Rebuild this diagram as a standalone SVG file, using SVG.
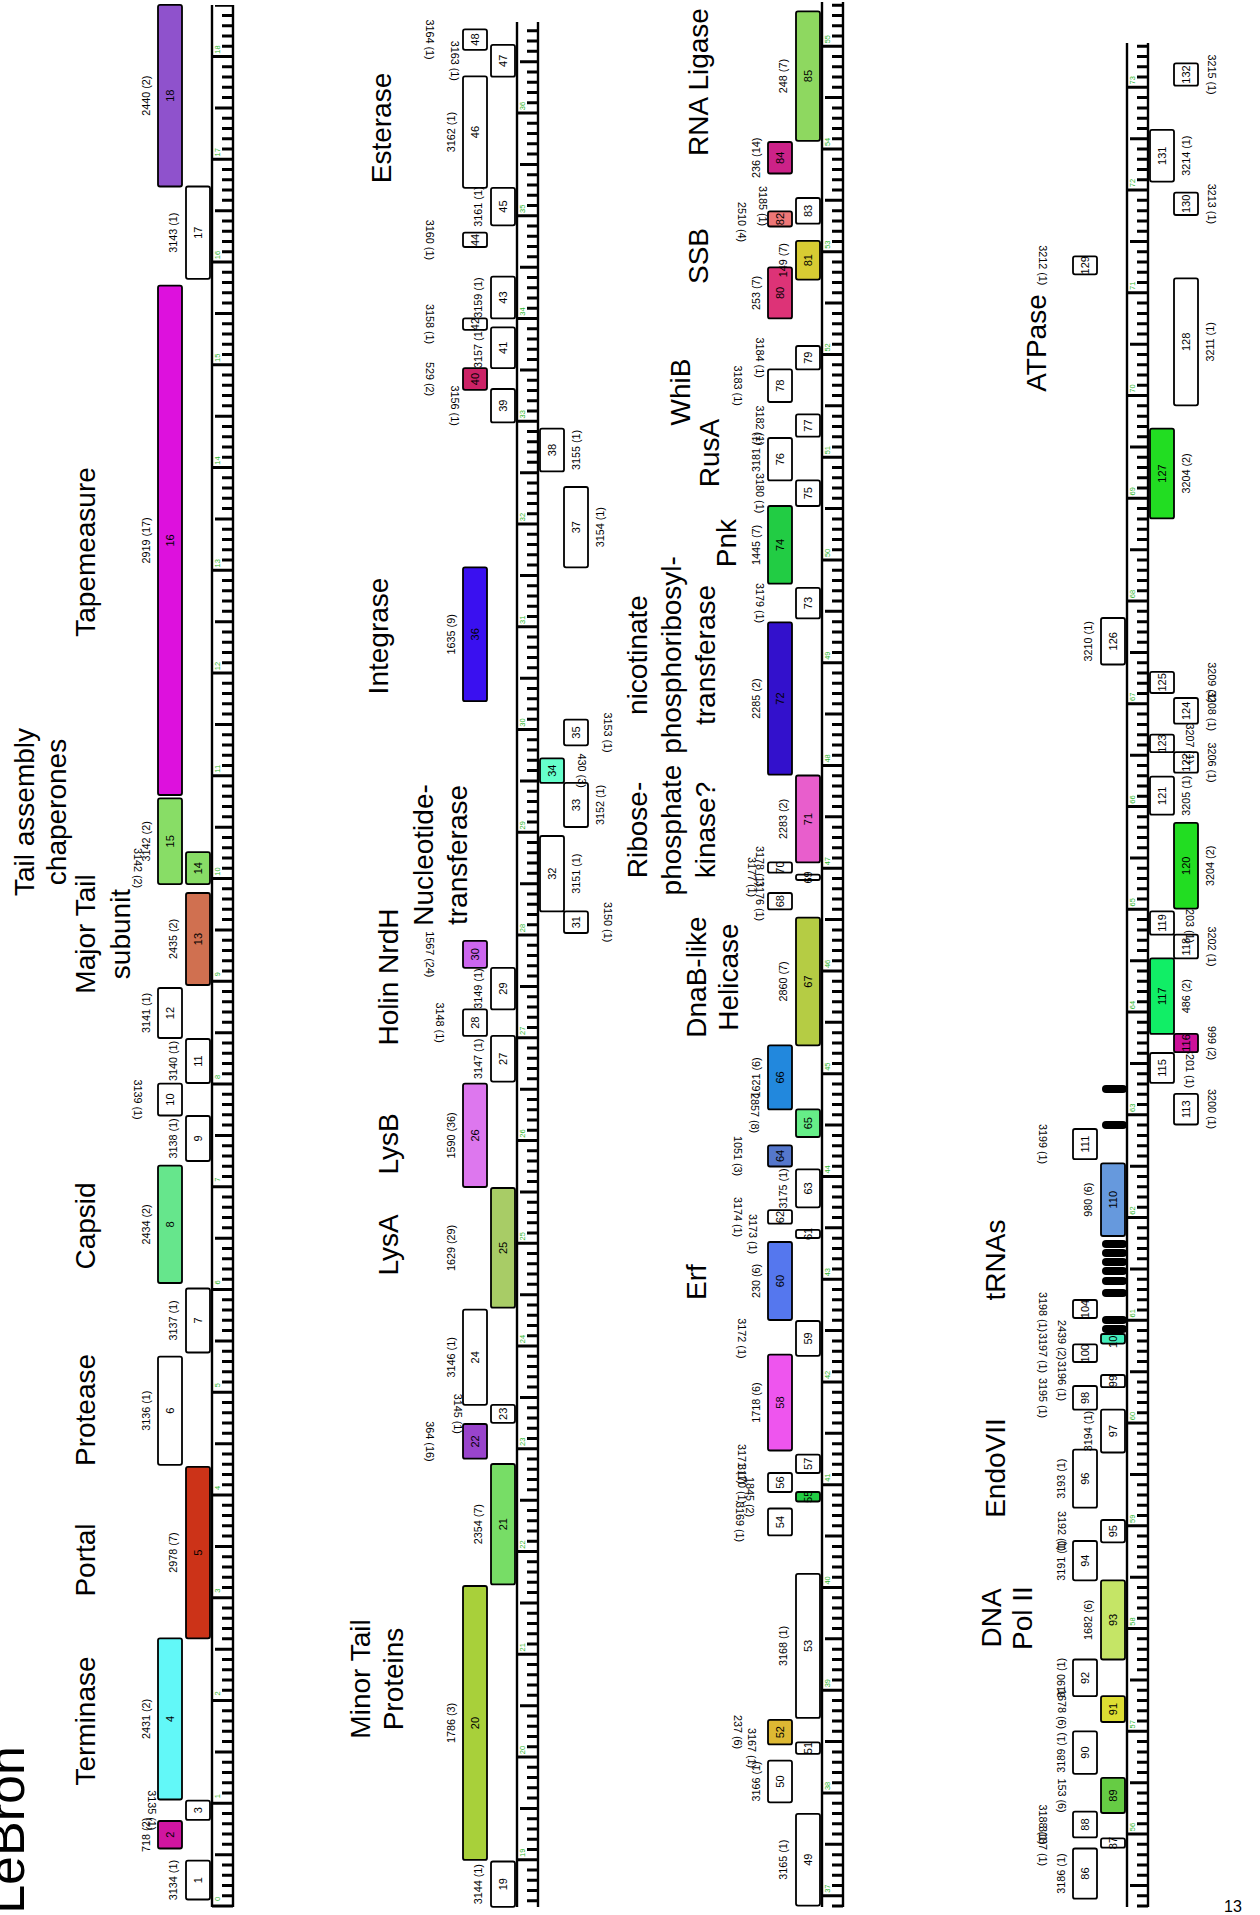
<svg xmlns="http://www.w3.org/2000/svg" width="1260" height="1915" viewBox="0 0 1260 1915">
<style>
text{font-family:"Liberation Sans",Arial,sans-serif;fill:#000}
.bx{stroke:#000;stroke-width:1.8}
.n{font-size:11px;text-anchor:middle;dominant-baseline:central}
.l{font-size:10.8px;text-anchor:middle;dominant-baseline:central}
.big{font-size:28px;text-anchor:middle;dominant-baseline:central}
.rl text{font-size:7.5px;fill:#2DB52D;text-anchor:middle;dominant-baseline:central}
.ax{stroke:#000;stroke-width:2.4}
.mi{stroke:#000;stroke-width:11;stroke-dasharray:3 7.275;fill:none}
.hf{stroke:#000;stroke-width:7;stroke-dasharray:3 48.375;fill:none}
.kb{stroke:#000;stroke-width:3;stroke-dasharray:3 99.75;fill:none}
.tr{fill:#000}
</style>
<rect width="1260" height="1915" fill="#fff"/>

<g id="title">
<text x="24" y="1830" font-size="52" text-anchor="middle" transform="rotate(-90 24 1830)">LeBron</text>
<text x="1233" y="1912" font-size="16" text-anchor="middle">13</text>
</g>

<g id="rulers">
<path class="mi" d="M227.5 1907.5V5"/><path class="hf" d="M218.5 1907.5V5"/><path class="kb" d="M213.5 1907.5V5"/>
<line class="ax" x1="212" y1="5" x2="212" y2="1907"/><line class="ax" x1="233" y1="5" x2="233" y2="1907"/>
<path class="mi" d="M532.5 1902.36V22"/><path class="hf" d="M523.5 1861.26V22"/><path class="kb" d="M518.5 1861.26V22"/>
<line class="ax" x1="517" y1="22" x2="517" y2="1907"/><line class="ax" x1="538" y1="22" x2="538" y2="1907"/>
<path class="mi" d="M837.5 1907.5V2"/><path class="hf" d="M828.5 1897.225V2"/><path class="kb" d="M823.5 1897.225V2"/>
<line class="ax" x1="822" y1="2" x2="822" y2="1907"/><line class="ax" x1="843" y1="2" x2="843" y2="1907"/>
<path class="mi" d="M1142.5 1907.5V43"/><path class="hf" d="M1133.5 1886.95V43"/><path class="kb" d="M1128.5 1835.575V43"/>
<line class="ax" x1="1127" y1="43" x2="1127" y2="1907"/><line class="ax" x1="1148" y1="43" x2="1148" y2="1907"/>
</g>

<g id="rulerlabels">
<g class="rl" transform="translate(217 0) rotate(-90)">
<text x="-1899">0</text><text x="-1796.25">1</text><text x="-1693.5">2</text><text x="-1590.75">3</text><text x="-1488">4</text><text x="-1385.25">5</text><text x="-1282.5">6</text><text x="-1179.75">7</text><text x="-1077">8</text><text x="-974.25">9</text><text x="-871.5">10</text><text x="-768.75">11</text><text x="-666">12</text><text x="-563.25">13</text><text x="-460.5">14</text><text x="-357.75">15</text><text x="-255">16</text><text x="-152.25">17</text><text x="-49.5">18</text>
</g>
<g class="rl" transform="translate(522 0) rotate(-90)">
<text x="-1852.76">19</text><text x="-1750.01">20</text><text x="-1647.26">21</text><text x="-1544.51">22</text><text x="-1441.76">23</text><text x="-1339.01">24</text><text x="-1236.26">25</text><text x="-1133.51">26</text><text x="-1030.76">27</text><text x="-928.01">28</text><text x="-825.26">29</text><text x="-722.51">30</text><text x="-619.76">31</text><text x="-517.01">32</text><text x="-414.26">33</text><text x="-311.51">34</text><text x="-208.76">35</text><text x="-106.01">36</text>
</g>
<g class="rl" transform="translate(827 0) rotate(-90)">
<text x="-1888.7">37</text><text x="-1785.95">38</text><text x="-1683.2">39</text><text x="-1580.45">40</text><text x="-1477.7">41</text><text x="-1374.95">42</text><text x="-1272.2">43</text><text x="-1169.45">44</text><text x="-1066.7">45</text><text x="-963.95">46</text><text x="-861.2">47</text><text x="-758.45">48</text><text x="-655.7">49</text><text x="-552.95">50</text><text x="-450.2">51</text><text x="-347.45">52</text><text x="-244.7">53</text><text x="-141.95">54</text><text x="-39.2">55</text>
</g>
<g class="rl" transform="translate(1132 0) rotate(-90)">
<text x="-1827.1">56</text><text x="-1724.35">57</text><text x="-1621.6">58</text><text x="-1518.85">59</text><text x="-1416.1">60</text><text x="-1313.35">61</text><text x="-1210.6">62</text><text x="-1107.85">63</text><text x="-1005.1">64</text><text x="-902.35">65</text><text x="-799.6">66</text><text x="-696.85">67</text><text x="-594.1">68</text><text x="-491.35">69</text><text x="-388.6">70</text><text x="-285.85">71</text><text x="-183.1">72</text><text x="-80.35">73</text>
</g>
</g>

<g id="labels">
<text class="big" x="85.5" y="1721" transform="rotate(-90 85.5 1721)">Terminase</text>
<text class="big" x="85.5" y="1560" transform="rotate(-90 85.5 1560)">Portal</text>
<text class="big" x="85.5" y="1410" transform="rotate(-90 85.5 1410)">Protease</text>
<text class="big" x="85.5" y="1226" transform="rotate(-90 85.5 1226)">Capsid</text>
<text class="big" x="85.5" y="934" transform="rotate(-90 85.5 934)">Major Tail</text>
<text class="big" x="120" y="934" transform="rotate(-90 120 934)">subunit</text>
<text class="big" x="24" y="812" transform="rotate(-90 24 812)">Tail assembly</text>
<text class="big" x="56" y="812" transform="rotate(-90 56 812)">chaperones</text>
<text class="big" x="85.5" y="552" transform="rotate(-90 85.5 552)">Tapemeasure</text>
<text class="big" x="360" y="1679" transform="rotate(-90 360 1679)">Minor Tail</text>
<text class="big" x="393" y="1679" transform="rotate(-90 393 1679)">Proteins</text>
<text class="big" x="388" y="1245" transform="rotate(-90 388 1245)">LysA</text>
<text class="big" x="388" y="1144" transform="rotate(-90 388 1144)">LysB</text>
<text class="big" x="388" y="977" transform="rotate(-90 388 977)">Holin NrdH</text>
<text class="big" x="423" y="855" transform="rotate(-90 423 855)">Nucleotide-</text>
<text class="big" x="457" y="855" transform="rotate(-90 457 855)">transferase</text>
<text class="big" x="378" y="636" transform="rotate(-90 378 636)">Integrase</text>
<text class="big" x="381" y="128" transform="rotate(-90 381 128)">Esterase</text>
<text class="big" x="696" y="1282" transform="rotate(-90 696 1282)">Erf</text>
<text class="big" x="696" y="977" transform="rotate(-90 696 977)">DnaB-like</text>
<text class="big" x="728" y="977" transform="rotate(-90 728 977)">Helicase</text>
<text class="big" x="637" y="830" transform="rotate(-90 637 830)">Ribose-</text>
<text class="big" x="671" y="830" transform="rotate(-90 671 830)">phosphate</text>
<text class="big" x="705" y="830" transform="rotate(-90 705 830)">kinase?</text>
<text class="big" x="637" y="655" transform="rotate(-90 637 655)">nicotinate</text>
<text class="big" x="671" y="655" transform="rotate(-90 671 655)">phosphoribosyl-</text>
<text class="big" x="705" y="655" transform="rotate(-90 705 655)">transferase</text>
<text class="big" x="726" y="543" transform="rotate(-90 726 543)">Pnk</text>
<text class="big" x="709" y="453" transform="rotate(-90 709 453)">RusA</text>
<text class="big" x="680" y="392" transform="rotate(-90 680 392)">WhiB</text>
<text class="big" x="698" y="256" transform="rotate(-90 698 256)">SSB</text>
<text class="big" x="698" y="82" transform="rotate(-90 698 82)">RNA Ligase</text>
<text class="big" x="995" y="1260" transform="rotate(-90 995 1260)">tRNAs</text>
<text class="big" x="995" y="1468" transform="rotate(-90 995 1468)">EndoVII</text>
<text class="big" x="991" y="1618" transform="rotate(-90 991 1618)">DNA</text>
<text class="big" x="1022" y="1618" transform="rotate(-90 1022 1618)">Pol II</text>
<text class="big" x="1036" y="343" transform="rotate(-90 1036 343)">ATPase</text>
</g>

<g id="genes">
<g id="gene1"><text class="l" x="173" y="1880.1" transform="rotate(-90 173 1880.1)">3134 (1)</text><rect class="bx" x="186" y="1860.7" width="24" height="38.8" rx="2" fill="#fff"/><text class="n" x="198" y="1880.1" transform="rotate(-90 198 1880.1)">1</text></g>
<g id="gene2"><text class="l" x="146" y="1834.8" transform="rotate(-90 146 1834.8)">718 (2)</text><rect class="bx" x="158" y="1821" width="24" height="27.5" rx="2" fill="#D015A0"/><text class="n" x="170" y="1834.8" transform="rotate(-90 170 1834.8)">2</text></g>
<g id="gene3"><text class="l" x="152" y="1810.3" transform="rotate(90 152 1810.3)">3135 (1)</text><rect class="bx" x="186" y="1800.7" width="24" height="19.2" rx="2" fill="#fff"/><text class="n" x="198" y="1810.3" transform="rotate(-90 198 1810.3)">3</text></g>
<g id="gene4"><text class="l" x="146" y="1718.9" transform="rotate(-90 146 1718.9)">2431 (2)</text><rect class="bx" x="158" y="1638.3" width="24" height="161.2" rx="2" fill="#62F8F8"/><text class="n" x="170" y="1718.9" transform="rotate(-90 170 1718.9)">4</text></g>
<g id="gene5"><text class="l" x="173" y="1552.6" transform="rotate(-90 173 1552.6)">2978 (7)</text><rect class="bx" x="186" y="1466.8" width="24" height="171.5" rx="2" fill="#CC3318"/><text class="n" x="198" y="1552.6" transform="rotate(-90 198 1552.6)">5</text></g>
<g id="gene6"><text class="l" x="146" y="1410.7" transform="rotate(-90 146 1410.7)">3136 (1)</text><rect class="bx" x="158" y="1356.6" width="24" height="108.2" rx="2" fill="#fff"/><text class="n" x="170" y="1410.7" transform="rotate(-90 170 1410.7)">6</text></g>
<g id="gene7"><text class="l" x="173" y="1320.5" transform="rotate(-90 173 1320.5)">3137 (1)</text><rect class="bx" x="186" y="1288.5" width="24" height="64" rx="2" fill="#fff"/><text class="n" x="198" y="1320.5" transform="rotate(-90 198 1320.5)">7</text></g>
<g id="gene8"><text class="l" x="146" y="1224.4" transform="rotate(-90 146 1224.4)">2434 (2)</text><rect class="bx" x="158" y="1165.7" width="24" height="117.3" rx="2" fill="#66E68C"/><text class="n" x="170" y="1224.4" transform="rotate(-90 170 1224.4)">8</text></g>
<g id="gene9"><text class="l" x="173" y="1138.5" transform="rotate(-90 173 1138.5)">3138 (1)</text><rect class="bx" x="186" y="1116" width="24" height="45" rx="2" fill="#fff"/><text class="n" x="198" y="1138.5" transform="rotate(-90 198 1138.5)">9</text></g>
<g id="gene10"><text class="l" x="138" y="1099.6" transform="rotate(90 138 1099.6)">3139 (1)</text><rect class="bx" x="158" y="1083.7" width="24" height="31.8" rx="2" fill="#fff"/><text class="n" x="170" y="1099.6" transform="rotate(-90 170 1099.6)">10</text></g>
<g id="gene11"><text class="l" x="173" y="1061" transform="rotate(-90 173 1061)">3140 (1)</text><rect class="bx" x="186" y="1039" width="24" height="44" rx="2" fill="#fff"/><text class="n" x="198" y="1061" transform="rotate(-90 198 1061)">11</text></g>
<g id="gene12"><text class="l" x="146" y="1013" transform="rotate(-90 146 1013)">3141 (1)</text><rect class="bx" x="158" y="988" width="24" height="50" rx="2" fill="#fff"/><text class="n" x="170" y="1013" transform="rotate(-90 170 1013)">12</text></g>
<g id="gene13"><text class="l" x="173" y="939" transform="rotate(-90 173 939)">2435 (2)</text><rect class="bx" x="186" y="893" width="24" height="92" rx="2" fill="#D07050"/><text class="n" x="198" y="939" transform="rotate(-90 198 939)">13</text></g>
<g id="gene14"><text class="l" x="138" y="868" transform="rotate(90 138 868)">3142 (2)</text><rect class="bx" x="186" y="852.2" width="24" height="31.9" rx="2" fill="#88DD66"/><text class="n" x="198" y="868.2" transform="rotate(-90 198 868.2)">14</text></g>
<g id="gene15"><text class="l" x="146" y="841.3" transform="rotate(-90 146 841.3)">3142 (2)</text><rect class="bx" x="158" y="798.4" width="24" height="85.7" rx="2" fill="#88DD66"/><text class="n" x="170" y="841.3" transform="rotate(-90 170 841.3)">15</text></g>
<g id="gene16"><text class="l" x="146" y="540.4" transform="rotate(-90 146 540.4)">2919 (17)</text><rect class="bx" x="158" y="285.7" width="24" height="509.3" rx="2" fill="#DD11DD"/><text class="n" x="170" y="540.4" transform="rotate(-90 170 540.4)">16</text></g>
<g id="gene17"><text class="l" x="173" y="232.7" transform="rotate(-90 173 232.7)">3143 (1)</text><rect class="bx" x="186" y="186.5" width="24" height="92.3" rx="2" fill="#fff"/><text class="n" x="198" y="232.7" transform="rotate(-90 198 232.7)">17</text></g>
<g id="gene18"><text class="l" x="146" y="95.7" transform="rotate(-90 146 95.7)">2440 (2)</text><rect class="bx" x="158" y="4.9" width="24" height="181.6" rx="2" fill="#8F52CC"/><text class="n" x="170" y="95.7" transform="rotate(-90 170 95.7)">18</text></g>

<g id="gene19"><text class="l" x="478" y="1884.2" transform="rotate(-90 478 1884.2)">3144 (1)</text><rect class="bx" x="491" y="1861.5" width="24" height="45.3" rx="2" fill="#fff"/><text class="n" x="503" y="1884.2" transform="rotate(-90 503 1884.2)">19</text></g>
<g id="gene20"><text class="l" x="451" y="1723" transform="rotate(-90 451 1723)">1786 (3)</text><rect class="bx" x="463" y="1586" width="24" height="273.9" rx="2" fill="#A8D03A"/><text class="n" x="475" y="1723" transform="rotate(-90 475 1723)">20</text></g>
<g id="gene21"><text class="l" x="478" y="1524.2" transform="rotate(-90 478 1524.2)">2354 (7)</text><rect class="bx" x="491" y="1464" width="24" height="120.4" rx="2" fill="#77DD66"/><text class="n" x="503" y="1524.2" transform="rotate(-90 503 1524.2)">21</text></g>
<g id="gene22"><text class="l" x="430" y="1441.4" transform="rotate(90 430 1441.4)">364 (16)</text><rect class="bx" x="463" y="1424" width="24" height="34.7" rx="2" fill="#9944CC"/><text class="n" x="475" y="1441.4" transform="rotate(-90 475 1441.4)">22</text></g>
<g id="gene23"><text class="l" x="458" y="1413.8" transform="rotate(90 458 1413.8)">3145 (1)</text><rect class="bx" x="491" y="1404.8" width="24" height="18" rx="2" fill="#fff"/><text class="n" x="503" y="1413.8" transform="rotate(-90 503 1413.8)">23</text></g>
<g id="gene24"><text class="l" x="451" y="1357.3" transform="rotate(-90 451 1357.3)">3146 (1)</text><rect class="bx" x="463" y="1309.7" width="24" height="95.1" rx="2" fill="#fff"/><text class="n" x="475" y="1357.3" transform="rotate(-90 475 1357.3)">24</text></g>
<g id="gene25"><text class="l" x="451" y="1247.9" transform="rotate(-90 451 1247.9)">1629 (29)</text><rect class="bx" x="491" y="1188" width="24" height="119.7" rx="2" fill="#A8CC66"/><text class="n" x="503" y="1247.9" transform="rotate(-90 503 1247.9)">25</text></g>
<g id="gene26"><text class="l" x="451" y="1135.4" transform="rotate(-90 451 1135.4)">1590 (36)</text><rect class="bx" x="463" y="1083.7" width="24" height="103.3" rx="2" fill="#DD77EE"/><text class="n" x="475" y="1135.4" transform="rotate(-90 475 1135.4)">26</text></g>
<g id="gene27"><text class="l" x="478" y="1058.8" transform="rotate(-90 478 1058.8)">3147 (1)</text><rect class="bx" x="491" y="1035.9" width="24" height="45.7" rx="2" fill="#fff"/><text class="n" x="503" y="1058.8" transform="rotate(-90 503 1058.8)">27</text></g>
<g id="gene28"><text class="l" x="440" y="1022.7" transform="rotate(90 440 1022.7)">3148 (1)</text><rect class="bx" x="463" y="1009.4" width="24" height="26.5" rx="2" fill="#fff"/><text class="n" x="475" y="1022.7" transform="rotate(-90 475 1022.7)">28</text></g>
<g id="gene29"><text class="l" x="478" y="988.6" transform="rotate(-90 478 988.6)">3149 (1)</text><rect class="bx" x="491" y="967.8" width="24" height="41.6" rx="2" fill="#fff"/><text class="n" x="503" y="988.6" transform="rotate(-90 503 988.6)">29</text></g>
<g id="gene30"><text class="l" x="430" y="954.3" transform="rotate(90 430 954.3)">1567 (24)</text><rect class="bx" x="463" y="940.8" width="24" height="27" rx="2" fill="#CC66EE"/><text class="n" x="475" y="954.3" transform="rotate(-90 475 954.3)">30</text></g>
<g id="gene31"><text class="l" x="608" y="922.2" transform="rotate(90 608 922.2)">3150 (1)</text><rect class="bx" x="564" y="911.4" width="24" height="21.6" rx="2" fill="#fff"/><text class="n" x="576" y="922.2" transform="rotate(-90 576 922.2)">31</text></g>
<g id="gene32"><text class="l" x="576" y="873.7" transform="rotate(-90 576 873.7)">3151 (1)</text><rect class="bx" x="540" y="836" width="24" height="75.4" rx="2" fill="#fff"/><text class="n" x="552" y="873.7" transform="rotate(-90 552 873.7)">32</text></g>
<g id="gene33"><text class="l" x="600" y="805" transform="rotate(-90 600 805)">3152 (1)</text><rect class="bx" x="564" y="782.9" width="24" height="44.1" rx="2" fill="#fff"/><text class="n" x="576" y="805" transform="rotate(-90 576 805)">33</text></g>
<g id="gene34"><text class="l" x="582" y="770.7" transform="rotate(90 582 770.7)">430 (3)</text><rect class="bx" x="540" y="758.4" width="24" height="24.5" rx="2" fill="#66FFCC"/><text class="n" x="552" y="770.7" transform="rotate(-90 552 770.7)">34</text></g>
<g id="gene35"><text class="l" x="608" y="732.5" transform="rotate(90 608 732.5)">3153 (1)</text><rect class="bx" x="564" y="719.6" width="24" height="25.7" rx="2" fill="#fff"/><text class="n" x="576" y="732.5" transform="rotate(-90 576 732.5)">35</text></g>
<g id="gene36"><text class="l" x="451" y="634.3" transform="rotate(-90 451 634.3)">1635 (9)</text><rect class="bx" x="463" y="567.3" width="24" height="133.9" rx="2" fill="#3A10F0"/><text class="n" x="475" y="634.3" transform="rotate(-90 475 634.3)">36</text></g>
<g id="gene37"><text class="l" x="600" y="527.2" transform="rotate(-90 600 527.2)">3154 (1)</text><rect class="bx" x="564" y="487" width="24" height="80.3" rx="2" fill="#fff"/><text class="n" x="576" y="527.2" transform="rotate(-90 576 527.2)">37</text></g>
<g id="gene38"><text class="l" x="576" y="450" transform="rotate(-90 576 450)">3155 (1)</text><rect class="bx" x="540" y="428.6" width="24" height="42.8" rx="2" fill="#fff"/><text class="n" x="552" y="450" transform="rotate(-90 552 450)">38</text></g>
<g id="gene39"><text class="l" x="455" y="405.7" transform="rotate(90 455 405.7)">3156 (1)</text><rect class="bx" x="491" y="389" width="24" height="33.4" rx="2" fill="#fff"/><text class="n" x="503" y="405.7" transform="rotate(-90 503 405.7)">39</text></g>
<g id="gene40"><text class="l" x="430" y="379" transform="rotate(90 430 379)">529 (2)</text><rect class="bx" x="463" y="368.2" width="24" height="21.6" rx="2" fill="#CC2266"/><text class="n" x="475" y="379" transform="rotate(-90 475 379)">40</text></g>
<g id="gene41"><text class="l" x="478" y="347.8" transform="rotate(-90 478 347.8)">3157 (1)</text><rect class="bx" x="491" y="327.3" width="24" height="40.9" rx="2" fill="#fff"/><text class="n" x="503" y="347.8" transform="rotate(-90 503 347.8)">41</text></g>
<g id="gene42"><text class="l" x="430" y="324.1" transform="rotate(90 430 324.1)">3158 (1)</text><rect class="bx" x="463" y="318.4" width="24" height="11.4" rx="2" fill="#fff"/><text class="n" x="475" y="324.1" transform="rotate(-90 475 324.1)">42</text></g>
<g id="gene43"><text class="l" x="478" y="297.6" transform="rotate(-90 478 297.6)">3159 (1)</text><rect class="bx" x="491" y="276.7" width="24" height="41.7" rx="2" fill="#fff"/><text class="n" x="503" y="297.6" transform="rotate(-90 503 297.6)">43</text></g>
<g id="gene44"><text class="l" x="430" y="239.9" transform="rotate(90 430 239.9)">3160 (1)</text><rect class="bx" x="463" y="232.7" width="24" height="14.3" rx="2" fill="#fff"/><text class="n" x="475" y="239.9" transform="rotate(-90 475 239.9)">44</text></g>
<g id="gene45"><text class="l" x="478" y="206.6" transform="rotate(-90 478 206.6)">3161 (1)</text><rect class="bx" x="491" y="187.8" width="24" height="37.5" rx="2" fill="#fff"/><text class="n" x="503" y="206.6" transform="rotate(-90 503 206.6)">45</text></g>
<g id="gene46"><text class="l" x="451" y="132.1" transform="rotate(-90 451 132.1)">3162 (1)</text><rect class="bx" x="463" y="76.3" width="24" height="111.5" rx="2" fill="#fff"/><text class="n" x="475" y="132.1" transform="rotate(-90 475 132.1)">46</text></g>
<g id="gene47"><text class="l" x="455" y="60.8" transform="rotate(90 455 60.8)">3163 (1)</text><rect class="bx" x="491" y="44.9" width="24" height="31.8" rx="2" fill="#fff"/><text class="n" x="503" y="60.8" transform="rotate(-90 503 60.8)">47</text></g>
<g id="gene48"><text class="l" x="430" y="39.6" transform="rotate(90 430 39.6)">3164 (1)</text><rect class="bx" x="463" y="29.4" width="24" height="20.4" rx="2" fill="#fff"/><text class="n" x="475" y="39.6" transform="rotate(-90 475 39.6)">48</text></g>

<g id="gene49"><text class="l" x="783" y="1859.7" transform="rotate(-90 783 1859.7)">3165 (1)</text><rect class="bx" x="796" y="1813.8" width="24" height="91.8" rx="2" fill="#fff"/><text class="n" x="808" y="1859.7" transform="rotate(-90 808 1859.7)">49</text></g>
<g id="gene50"><text class="l" x="756" y="1781.5" transform="rotate(-90 756 1781.5)">3166 (1)</text><rect class="bx" x="768" y="1760.7" width="24" height="41.6" rx="2" fill="#fff"/><text class="n" x="780" y="1781.5" transform="rotate(-90 780 1781.5)">50</text></g>
<g id="gene51"><text class="l" x="752" y="1748" transform="rotate(90 752 1748)">3167 (1)</text><rect class="bx" x="796" y="1742.3" width="24" height="11.5" rx="2" fill="#fff"/><text class="n" x="808" y="1748" transform="rotate(-90 808 1748)">51</text></g>
<g id="gene52"><text class="l" x="738" y="1732" transform="rotate(90 738 1732)">237 (6)</text><rect class="bx" x="768" y="1719.9" width="24" height="24.5" rx="2" fill="#DDB833"/><text class="n" x="780" y="1732.2" transform="rotate(-90 780 1732.2)">52</text></g>
<g id="gene53"><text class="l" x="783" y="1645.9" transform="rotate(-90 783 1645.9)">3168 (1)</text><rect class="bx" x="796" y="1573.8" width="24" height="144.1" rx="2" fill="#fff"/><text class="n" x="808" y="1645.9" transform="rotate(-90 808 1645.9)">53</text></g>
<g id="gene54"><text class="l" x="740" y="1522" transform="rotate(90 740 1522)">3169 (1)</text><rect class="bx" x="768" y="1508.5" width="24" height="26.9" rx="2" fill="#fff"/><text class="n" x="780" y="1522" transform="rotate(-90 780 1522)">54</text></g>
<g id="gene55"><text class="l" x="750" y="1497" transform="rotate(90 750 1497)">1845 (2)</text><rect class="bx" x="796" y="1492" width="24" height="9.5" rx="2" fill="#22CC44"/><text class="n" x="808" y="1496.8" transform="rotate(-90 808 1496.8)">55</text></g>
<g id="gene56"><text class="l" x="742" y="1484" transform="rotate(90 742 1484)">3170 (1)</text><rect class="bx" x="768" y="1473" width="24" height="19" rx="2" fill="#fff"/><text class="n" x="780" y="1482.5" transform="rotate(-90 780 1482.5)">56</text></g>
<g id="gene57"><text class="l" x="742" y="1464" transform="rotate(90 742 1464)">3171 (1)</text><rect class="bx" x="796" y="1454.6" width="24" height="18.4" rx="2" fill="#fff"/><text class="n" x="808" y="1463.8" transform="rotate(-90 808 1463.8)">57</text></g>
<g id="gene58"><text class="l" x="756" y="1402.6" transform="rotate(-90 756 1402.6)">1718 (6)</text><rect class="bx" x="768" y="1354.6" width="24" height="95.9" rx="2" fill="#EE55EE"/><text class="n" x="780" y="1402.6" transform="rotate(-90 780 1402.6)">58</text></g>
<g id="gene59"><text class="l" x="742" y="1338.4" transform="rotate(90 742 1338.4)">3172 (1)</text><rect class="bx" x="796" y="1321" width="24" height="34.8" rx="2" fill="#fff"/><text class="n" x="808" y="1338.4" transform="rotate(-90 808 1338.4)">59</text></g>
<g id="gene60"><text class="l" x="756" y="1281" transform="rotate(-90 756 1281)">230 (6)</text><rect class="bx" x="768" y="1242" width="24" height="78" rx="2" fill="#5577EE"/><text class="n" x="780" y="1281" transform="rotate(-90 780 1281)">60</text></g>
<g id="gene61"><text class="l" x="753" y="1234" transform="rotate(90 753 1234)">3173 (1)</text><rect class="bx" x="796" y="1229.8" width="24" height="8.2" rx="2" fill="#fff"/><text class="n" x="808" y="1233.9" transform="rotate(-90 808 1233.9)">61</text></g>
<g id="gene62"><text class="l" x="738" y="1217" transform="rotate(90 738 1217)">3174 (1)</text><rect class="bx" x="768" y="1210.2" width="24" height="13.5" rx="2" fill="#fff"/><text class="n" x="780" y="1217" transform="rotate(-90 780 1217)">62</text></g>
<g id="gene63"><text class="l" x="783" y="1188.4" transform="rotate(-90 783 1188.4)">3175 (1)</text><rect class="bx" x="796" y="1169.4" width="24" height="37.9" rx="2" fill="#fff"/><text class="n" x="808" y="1188.4" transform="rotate(-90 808 1188.4)">63</text></g>
<g id="gene64"><text class="l" x="738" y="1156" transform="rotate(90 738 1156)">1051 (3)</text><rect class="bx" x="768" y="1145.3" width="24" height="21.2" rx="2" fill="#5577CC"/><text class="n" x="780" y="1155.9" transform="rotate(-90 780 1155.9)">64</text></g>
<g id="gene65"><text class="l" x="755" y="1113" transform="rotate(90 755 1113)">2857 (8)</text><rect class="bx" x="796" y="1109.4" width="24" height="27.6" rx="2" fill="#66EE88"/><text class="n" x="808" y="1123.2" transform="rotate(-90 808 1123.2)">65</text></g>
<g id="gene66"><text class="l" x="756" y="1077.4" transform="rotate(-90 756 1077.4)">1621 (6)</text><rect class="bx" x="768" y="1045.3" width="24" height="64.1" rx="2" fill="#2288DD"/><text class="n" x="780" y="1077.4" transform="rotate(-90 780 1077.4)">66</text></g>
<g id="gene67"><text class="l" x="783" y="981.5" transform="rotate(-90 783 981.5)">2860 (7)</text><rect class="bx" x="796" y="917.6" width="24" height="127.7" rx="2" fill="#B5CC44"/><text class="n" x="808" y="981.5" transform="rotate(-90 808 981.5)">67</text></g>
<g id="gene68"><text class="l" x="760" y="901" transform="rotate(90 760 901)">3176 (1)</text><rect class="bx" x="768" y="893" width="24" height="16.4" rx="2" fill="#fff"/><text class="n" x="780" y="901.2" transform="rotate(-90 780 901.2)">68</text></g>
<g id="gene69"><text class="l" x="752" y="877" transform="rotate(90 752 877)">3177 (1)</text><rect class="bx" x="796" y="874.7" width="24" height="5.3" rx="2" fill="#fff"/><text class="n" x="808" y="877.4" transform="rotate(-90 808 877.4)">69</text></g>
<g id="gene70"><text class="l" x="760" y="866" transform="rotate(90 760 866)">3178 (1)</text><rect class="bx" x="768" y="862.4" width="24" height="10.3" rx="2" fill="#fff"/><text class="n" x="780" y="867.6" transform="rotate(-90 780 867.6)">70</text></g>
<g id="gene71"><text class="l" x="783" y="819" transform="rotate(-90 783 819)">2283 (2)</text><rect class="bx" x="796" y="775.5" width="24" height="86.9" rx="2" fill="#E85ECC"/><text class="n" x="808" y="819" transform="rotate(-90 808 819)">71</text></g>
<g id="gene72"><text class="l" x="756" y="698.6" transform="rotate(-90 756 698.6)">2285 (2)</text><rect class="bx" x="768" y="622.4" width="24" height="152.3" rx="2" fill="#3311CC"/><text class="n" x="780" y="698.6" transform="rotate(-90 780 698.6)">72</text></g>
<g id="gene73"><text class="l" x="760" y="603" transform="rotate(90 760 603)">3179 (1)</text><rect class="bx" x="796" y="587.8" width="24" height="30.6" rx="2" fill="#fff"/><text class="n" x="808" y="603.1" transform="rotate(-90 808 603.1)">73</text></g>
<g id="gene74"><text class="l" x="756" y="544.9" transform="rotate(-90 756 544.9)">1445 (7)</text><rect class="bx" x="768" y="506" width="24" height="77.7" rx="2" fill="#22CC44"/><text class="n" x="780" y="544.9" transform="rotate(-90 780 544.9)">74</text></g>
<g id="gene75"><text class="l" x="760" y="493.2" transform="rotate(90 760 493.2)">3180 (1)</text><rect class="bx" x="796" y="480.4" width="24" height="25.6" rx="2" fill="#fff"/><text class="n" x="808" y="493.2" transform="rotate(-90 808 493.2)">75</text></g>
<g id="gene76"><text class="l" x="756" y="452" transform="rotate(-90 756 452)">3181 (1)</text><rect class="bx" x="768" y="438" width="24" height="42.4" rx="2" fill="#fff"/><text class="n" x="780" y="459.2" transform="rotate(-90 780 459.2)">76</text></g>
<g id="gene77"><text class="l" x="760" y="425.5" transform="rotate(90 760 425.5)">3182 (1)</text><rect class="bx" x="796" y="414.3" width="24" height="22.4" rx="2" fill="#fff"/><text class="n" x="808" y="425.5" transform="rotate(-90 808 425.5)">77</text></g>
<g id="gene78"><text class="l" x="738" y="385.7" transform="rotate(90 738 385.7)">3183 (1)</text><rect class="bx" x="768" y="369.4" width="24" height="32.6" rx="2" fill="#fff"/><text class="n" x="780" y="385.7" transform="rotate(-90 780 385.7)">78</text></g>
<g id="gene79"><text class="l" x="760" y="357.7" transform="rotate(90 760 357.7)">3184 (1)</text><rect class="bx" x="796" y="346" width="24" height="23.4" rx="2" fill="#fff"/><text class="n" x="808" y="357.7" transform="rotate(-90 808 357.7)">79</text></g>
<g id="gene80"><text class="l" x="756" y="292.9" transform="rotate(-90 756 292.9)">253 (7)</text><rect class="bx" x="768" y="267.3" width="24" height="51.1" rx="2" fill="#DD3377"/><text class="n" x="780" y="292.9" transform="rotate(-90 780 292.9)">80</text></g>
<g id="gene81"><text class="l" x="783" y="260.2" transform="rotate(-90 783 260.2)">149 (7)</text><rect class="bx" x="796" y="240.8" width="24" height="38.8" rx="2" fill="#D8CC33"/><text class="n" x="808" y="260.2" transform="rotate(-90 808 260.2)">81</text></g>
<g id="gene82"><text class="l" x="742" y="222" transform="rotate(90 742 222)">2510 (4)</text><rect class="bx" x="768" y="211.4" width="24" height="15.1" rx="2" fill="#EE7777"/><text class="n" x="780" y="219" transform="rotate(-90 780 219)">82</text></g>
<g id="gene83"><text class="l" x="763" y="206" transform="rotate(90 763 206)">3185 (1)</text><rect class="bx" x="796" y="198" width="24" height="25.7" rx="2" fill="#fff"/><text class="n" x="808" y="210.9" transform="rotate(-90 808 210.9)">83</text></g>
<g id="gene84"><text class="l" x="756" y="157.8" transform="rotate(-90 756 157.8)">236 (14)</text><rect class="bx" x="768" y="142" width="24" height="31.5" rx="2" fill="#CC2288"/><text class="n" x="780" y="157.8" transform="rotate(-90 780 157.8)">84</text></g>
<g id="gene85"><text class="l" x="783" y="76.1" transform="rotate(-90 783 76.1)">248 (7)</text><rect class="bx" x="796" y="11.4" width="24" height="129.4" rx="2" fill="#8ED860"/><text class="n" x="808" y="76.1" transform="rotate(-90 808 76.1)">85</text></g>

<g id="gene86"><text class="l" x="1061" y="1873.6" transform="rotate(-90 1061 1873.6)">3186 (1)</text><rect class="bx" x="1073" y="1848.5" width="24" height="50.2" rx="2" fill="#fff"/><text class="n" x="1085" y="1873.6" transform="rotate(-90 1085 1873.6)">86</text></g>
<g id="gene87"><text class="l" x="1043" y="1846" transform="rotate(90 1043 1846)">3187 (1)</text><rect class="bx" x="1101" y="1838.3" width="24" height="9.4" rx="2" fill="#fff"/><text class="n" x="1113" y="1843" transform="rotate(-90 1113 1843)">87</text></g>
<g id="gene88"><text class="l" x="1043" y="1824.6" transform="rotate(90 1043 1824.6)">3188 (1)</text><rect class="bx" x="1073" y="1811.7" width="24" height="25.7" rx="2" fill="#fff"/><text class="n" x="1085" y="1824.6" transform="rotate(-90 1085 1824.6)">88</text></g>
<g id="gene89"><text class="l" x="1062" y="1795.5" transform="rotate(90 1062 1795.5)">153 (6)</text><rect class="bx" x="1101" y="1777.9" width="24" height="35.1" rx="2" fill="#66CC44"/><text class="n" x="1113" y="1795.5" transform="rotate(-90 1113 1795.5)">89</text></g>
<g id="gene90"><text class="l" x="1061" y="1752.6" transform="rotate(-90 1061 1752.6)">3189 (1)</text><rect class="bx" x="1073" y="1731.3" width="24" height="42.5" rx="2" fill="#fff"/><text class="n" x="1085" y="1752.6" transform="rotate(-90 1085 1752.6)">90</text></g>
<g id="gene91"><text class="l" x="1062" y="1709" transform="rotate(90 1062 1709)">1678 (6)</text><rect class="bx" x="1101" y="1696.2" width="24" height="25.8" rx="2" fill="#DDDD33"/><text class="n" x="1113" y="1709.1" transform="rotate(-90 1113 1709.1)">91</text></g>
<g id="gene92"><text class="l" x="1061" y="1677.9" transform="rotate(-90 1061 1677.9)">3190 (1)</text><rect class="bx" x="1073" y="1659.5" width="24" height="36.7" rx="2" fill="#fff"/><text class="n" x="1085" y="1677.9" transform="rotate(-90 1085 1677.9)">92</text></g>
<g id="gene93"><text class="l" x="1088" y="1619.9" transform="rotate(-90 1088 1619.9)">1682 (6)</text><rect class="bx" x="1101" y="1580.3" width="24" height="79.2" rx="2" fill="#C5E566"/><text class="n" x="1113" y="1619.9" transform="rotate(-90 1113 1619.9)">93</text></g>
<g id="gene94"><text class="l" x="1061" y="1560.7" transform="rotate(-90 1061 1560.7)">3191 (1)</text><rect class="bx" x="1073" y="1541" width="24" height="39.3" rx="2" fill="#fff"/><text class="n" x="1085" y="1560.7" transform="rotate(-90 1085 1560.7)">94</text></g>
<g id="gene95"><text class="l" x="1062" y="1531" transform="rotate(90 1062 1531)">3192 (1)</text><rect class="bx" x="1101" y="1520" width="24" height="22.3" rx="2" fill="#fff"/><text class="n" x="1113" y="1531.2" transform="rotate(-90 1113 1531.2)">95</text></g>
<g id="gene96"><text class="l" x="1061" y="1478.7" transform="rotate(-90 1061 1478.7)">3193 (1)</text><rect class="bx" x="1073" y="1449.7" width="24" height="58" rx="2" fill="#fff"/><text class="n" x="1085" y="1478.7" transform="rotate(-90 1085 1478.7)">96</text></g>
<g id="gene97"><text class="l" x="1088" y="1431.1" transform="rotate(-90 1088 1431.1)">3194 (1)</text><rect class="bx" x="1101" y="1409.7" width="24" height="42.8" rx="2" fill="#fff"/><text class="n" x="1113" y="1431.1" transform="rotate(-90 1113 1431.1)">97</text></g>
<g id="gene98"><text class="l" x="1043" y="1398" transform="rotate(90 1043 1398)">3195 (1)</text><rect class="bx" x="1073" y="1386" width="24" height="23.7" rx="2" fill="#fff"/><text class="n" x="1085" y="1397.9" transform="rotate(-90 1085 1397.9)">98</text></g>
<g id="gene99"><text class="l" x="1062" y="1381" transform="rotate(90 1062 1381)">3196 (1)</text><rect class="bx" x="1101" y="1375" width="24" height="12.2" rx="2" fill="#fff"/><text class="n" x="1113" y="1381.1" transform="rotate(-90 1113 1381.1)">99</text></g>
<g id="gene100"><text class="l" x="1043" y="1353" transform="rotate(90 1043 1353)">3197 (1)</text><rect class="bx" x="1073" y="1344.4" width="24" height="17.6" rx="2" fill="#fff"/><text class="n" x="1085" y="1353.2" transform="rotate(-90 1085 1353.2)">100</text></g>
<g id="gene101"><text class="l" x="1062" y="1340" transform="rotate(90 1062 1340)">2439 (2)</text><rect class="bx" x="1101" y="1334" width="24" height="9.6" rx="2" fill="#44EEBB"/><text class="n" x="1113" y="1338.8" transform="rotate(-90 1113 1338.8)">101</text></g>
<g id="gene104"><text class="l" x="1043" y="1312" transform="rotate(90 1043 1312)">3198 (1)</text><rect class="bx" x="1073" y="1300" width="24" height="18" rx="2" fill="#fff"/><text class="n" x="1085" y="1309" transform="rotate(-90 1085 1309)">104</text></g>
<g id="trna">
<rect class="tr" x="1102" y="1325" width="25" height="8" rx="4"/><rect class="tr" x="1102" y="1316" width="25" height="8" rx="4"/>
<rect class="tr" x="1102" y="1289" width="25" height="8" rx="4"/><rect class="tr" x="1102" y="1277" width="25" height="8" rx="4"/><rect class="tr" x="1102" y="1267" width="25" height="8" rx="4"/><rect class="tr" x="1102" y="1258" width="25" height="8" rx="4"/><rect class="tr" x="1102" y="1249" width="25" height="8" rx="4"/><rect class="tr" x="1102" y="1240" width="25" height="8" rx="4"/>
<rect class="tr" x="1102" y="1121" width="25" height="8" rx="4"/><rect class="tr" x="1102" y="1085" width="25" height="8" rx="4"/>
</g>
<g id="gene110"><text class="l" x="1088" y="1199.7" transform="rotate(-90 1088 1199.7)">980 (6)</text><rect class="bx" x="1101" y="1163.3" width="24" height="72.7" rx="2" fill="#6699DD"/><text class="n" x="1113" y="1199.7" transform="rotate(-90 1113 1199.7)">110</text></g>
<g id="gene111"><text class="l" x="1043" y="1144" transform="rotate(90 1043 1144)">3199 (1)</text><rect class="bx" x="1073" y="1129" width="24" height="30.2" rx="2" fill="#fff"/><text class="n" x="1085" y="1144.1" transform="rotate(-90 1085 1144.1)">111</text></g>
<g id="gene113"><text class="l" x="1212" y="1109" transform="rotate(90 1212 1109)">3200 (1)</text><rect class="bx" x="1174" y="1093.9" width="24" height="30.6" rx="2" fill="#fff"/><text class="n" x="1186" y="1109.2" transform="rotate(-90 1186 1109.2)">113</text></g>
<g id="gene115"><text class="l" x="1190" y="1068" transform="rotate(90 1190 1068)">3201 (1)</text><rect class="bx" x="1150" y="1053" width="24" height="29.9" rx="2" fill="#fff"/><text class="n" x="1162" y="1068" transform="rotate(-90 1162 1068)">115</text></g>
<g id="gene116"><text class="l" x="1212" y="1043" transform="rotate(90 1212 1043)">999 (2)</text><rect class="bx" x="1174" y="1033.9" width="24" height="18.3" rx="2" fill="#CC1199"/><text class="n" x="1186" y="1043" transform="rotate(-90 1186 1043)">116</text></g>
<g id="gene117"><text class="l" x="1186" y="996.2" transform="rotate(-90 1186 996.2)">486 (2)</text><rect class="bx" x="1150" y="958.4" width="24" height="75.5" rx="2" fill="#11EE66"/><text class="n" x="1162" y="996.2" transform="rotate(-90 1162 996.2)">117</text></g>
<g id="gene118"><text class="l" x="1212" y="946.6" transform="rotate(90 1212 946.6)">3202 (1)</text><rect class="bx" x="1174" y="934.7" width="24" height="23.7" rx="2" fill="#fff"/><text class="n" x="1186" y="946.6" transform="rotate(-90 1186 946.6)">118</text></g>
<g id="gene119"><text class="l" x="1190" y="923" transform="rotate(90 1190 923)">3203 (1)</text><rect class="bx" x="1150" y="911.4" width="24" height="23.3" rx="2" fill="#fff"/><text class="n" x="1162" y="923" transform="rotate(-90 1162 923)">119</text></g>
<g id="gene120"><text class="l" x="1210" y="865.8" transform="rotate(-90 1210 865.8)">3204 (2)</text><rect class="bx" x="1174" y="822.9" width="24" height="85.7" rx="2" fill="#22DD22"/><text class="n" x="1186" y="865.8" transform="rotate(-90 1186 865.8)">120</text></g>
<g id="gene121"><text class="l" x="1186" y="795.7" transform="rotate(-90 1186 795.7)">3205 (1)</text><rect class="bx" x="1150" y="776.7" width="24" height="38" rx="2" fill="#fff"/><text class="n" x="1162" y="795.7" transform="rotate(-90 1162 795.7)">121</text></g>
<g id="gene122"><text class="l" x="1212" y="762.5" transform="rotate(90 1212 762.5)">3206 (1)</text><rect class="bx" x="1174" y="752.2" width="24" height="20.5" rx="2" fill="#fff"/><text class="n" x="1186" y="762.5" transform="rotate(-90 1186 762.5)">122</text></g>
<g id="gene123"><text class="l" x="1190" y="743.5" transform="rotate(90 1190 743.5)">3207 (1)</text><rect class="bx" x="1150" y="734.7" width="24" height="17.5" rx="2" fill="#fff"/><text class="n" x="1162" y="743.5" transform="rotate(-90 1162 743.5)">123</text></g>
<g id="gene124"><text class="l" x="1212" y="710.9" transform="rotate(90 1212 710.9)">3208 (1)</text><rect class="bx" x="1174" y="698" width="24" height="25.7" rx="2" fill="#fff"/><text class="n" x="1186" y="710.9" transform="rotate(-90 1186 710.9)">124</text></g>
<g id="gene125"><text class="l" x="1212" y="682.4" transform="rotate(90 1212 682.4)">3209 (1)</text><rect class="bx" x="1150" y="671.8" width="24" height="21.2" rx="2" fill="#fff"/><text class="n" x="1162" y="682.4" transform="rotate(-90 1162 682.4)">125</text></g>
<g id="gene126"><text class="l" x="1088" y="641.3" transform="rotate(-90 1088 641.3)">3210 (1)</text><rect class="bx" x="1101" y="618" width="24" height="46.5" rx="2" fill="#fff"/><text class="n" x="1113" y="641.3" transform="rotate(-90 1113 641.3)">126</text></g>
<g id="gene127"><text class="l" x="1186" y="473.5" transform="rotate(-90 1186 473.5)">3204 (2)</text><rect class="bx" x="1150" y="428.6" width="24" height="89.8" rx="2" fill="#22DD22"/><text class="n" x="1162" y="473.5" transform="rotate(-90 1162 473.5)">127</text></g>
<g id="gene128"><text class="l" x="1210" y="341.9" transform="rotate(-90 1210 341.9)">3211 (1)</text><rect class="bx" x="1174" y="278.4" width="24" height="126.9" rx="2" fill="#fff"/><text class="n" x="1186" y="341.9" transform="rotate(-90 1186 341.9)">128</text></g>
<g id="gene129"><text class="l" x="1043" y="265.3" transform="rotate(90 1043 265.3)">3212 (1)</text><rect class="bx" x="1073" y="256.3" width="24" height="18" rx="2" fill="#fff"/><text class="n" x="1085" y="265.3" transform="rotate(-90 1085 265.3)">129</text></g>
<g id="gene130"><text class="l" x="1212" y="203.9" transform="rotate(90 1212 203.9)">3213 (1)</text><rect class="bx" x="1174" y="192.7" width="24" height="22.3" rx="2" fill="#fff"/><text class="n" x="1186" y="203.9" transform="rotate(-90 1186 203.9)">130</text></g>
<g id="gene131"><text class="l" x="1186" y="155.7" transform="rotate(-90 1186 155.7)">3214 (1)</text><rect class="bx" x="1150" y="129.8" width="24" height="51.8" rx="2" fill="#fff"/><text class="n" x="1162" y="155.7" transform="rotate(-90 1162 155.7)">131</text></g>
<g id="gene132"><text class="l" x="1212" y="74.5" transform="rotate(90 1212 74.5)">3215 (1)</text><rect class="bx" x="1174" y="63.3" width="24" height="22.4" rx="2" fill="#fff"/><text class="n" x="1186" y="74.5" transform="rotate(-90 1186 74.5)">132</text></g>
</g>
</svg>
